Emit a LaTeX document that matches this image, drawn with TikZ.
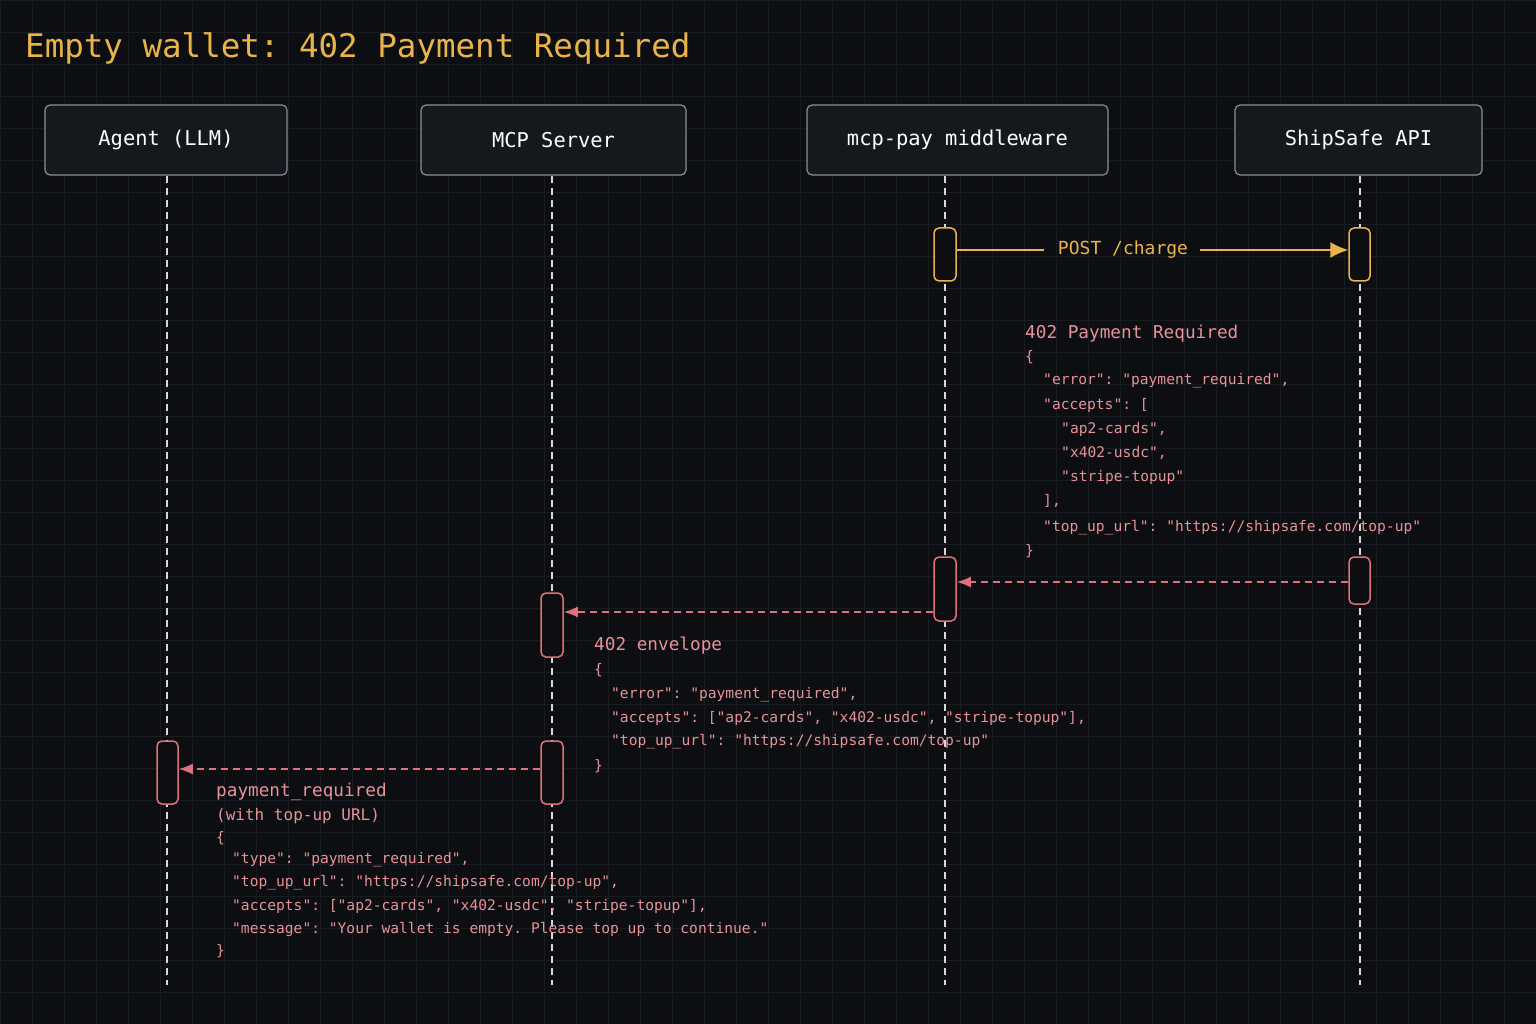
\documentclass[tikz,border=0pt]{standalone}
\usepackage{fontspec}
\setmonofont{DejaVu Sans Mono}
\usetikzlibrary{arrows.meta}
\definecolor{bg}{HTML}{0C0E11}
\definecolor{gridc}{HTML}{181B1F}
\definecolor{yel}{HTML}{E9B44C}
\definecolor{red}{HTML}{E0707C}
\definecolor{codec}{HTML}{E8929A}
\definecolor{boxfill}{HTML}{15181C}
\definecolor{boxline}{HTML}{8A8F96}
\definecolor{lifec}{HTML}{D8D8D8}
\begin{document}
\begin{tikzpicture}[x=1pt,y=-1pt,
  actor/.style={draw=boxline,fill=boxfill,rounded corners=5pt,line width=1.2pt,text=white,font=\ttfamily\fontsize{20.4}{20}\selectfont},
  life/.style={lifec,dashed,dash pattern=on 7pt off 5pt,line width=1.3pt},
  actY/.style={draw=yel,fill=bg,rounded corners=5pt,line width=1.5pt},
  actR/.style={draw=red,fill=bg,rounded corners=5pt,line width=1.5pt},
  code/.style={anchor=west,inner sep=0pt,text=codec,font=\ttfamily\fontsize{14.6}{14}\selectfont},
  head/.style={anchor=west,inner sep=0pt,text=codec,font=\ttfamily\fontsize{17.7}{17}\selectfont},
  rmsg/.style={red,line width=1.6pt,dash pattern=on 7pt off 5pt,-{Latex[length=14pt,width=11pt]}}]
\fill[bg] (0,0) rectangle (1536,1024);
\useasboundingbox (0,0) rectangle (1536,1024);
\foreach \i in {0,32,...,1536} \draw[gridc,line width=0.6pt] (\i,0) -- (\i,1024);
\foreach \j in {0,32,...,1024} \draw[gridc,line width=0.6pt] (0,\j) -- (1536,\j);
\node[anchor=west,inner sep=0pt,text=yel,font=\ttfamily\fontsize{32.5}{33}\selectfont] (title) at (25,48) {Empty wallet: 402 Payment Required};
% actors
\node[actor,minimum width=242,minimum height=70] (agent) at (166,140) {Agent (LLM)};
\node[actor,minimum width=265,minimum height=70] (mcp) at (553.5,140) {MCP Server};
\node[actor,minimum width=301,minimum height=70] (pay) at (957.5,140) {mcp-pay middleware};
\node[actor,minimum width=247,minimum height=70] (ship) at (1358.5,140) {ShipSafe API};
\coordinate (agentE) at (167,985);
\coordinate (mcpE) at (552,985);
\coordinate (payE) at (945,985);
\coordinate (shipE) at (1360,985);
\draw[life] (agent.south -| agentE) -- (agentE);
\draw[life] (mcp.south -| mcpE) -- (mcpE);
\draw[life] (pay.south -| payE) -- (payE);
\draw[life] (ship.south -| shipE) -- (shipE);
% activations
\node[actY,minimum width=22,minimum height=53,inner sep=0pt] (a1) at (945,254.5) {};
\node[actY,minimum width=21,minimum height=53,inner sep=0pt] (a2) at (1359.5,254.5) {};
\node[actR,minimum width=21,minimum height=47,inner sep=0pt] (r1) at (1359.5,580.5) {};
\node[actR,minimum width=22,minimum height=64,inner sep=0pt] (r2) at (945,589) {};
\node[actR,minimum width=22,minimum height=64,inner sep=0pt] (r3) at (552,625) {};
\node[actR,minimum width=22,minimum height=63,inner sep=0pt] (r4) at (552,772.5) {};
\node[actR,minimum width=21,minimum height=63,inner sep=0pt] (r5) at (167.5,772.5) {};
% POST
\node[text=yel,font=\ttfamily\fontsize{18}{18}\selectfont,inner sep=0pt] (post) at (1123,250) {POST /charge};
\draw[yel,line width=1.6pt] (a1.east |- post) -- (1044,250);
\draw[yel,line width=1.6pt,-{Latex[length=18pt,width=16pt]}] (1200,250) -- (a2.west |- post);
% red arrows
\draw[rmsg] (r1.west |- 0,582) -- (r2.east |- 0,582);
\draw[rmsg] (r2.west |- 0,612) -- (r3.east |- 0,612);
\draw[rmsg] (r4.west |- 0,769) -- (r5.east |- 0,769);
% block 1
\node[head] (h1) at (1025,334) {402 Payment Required};
\node[code] (c11) at (1025,357) {\{};
\node[code] (c12) at (1043,381) {"error": "payment\_required",};
\node[code] (c13) at (1043,405) {"accepts": [};
\node[code] (c14) at (1061,429) {"ap2-cards",};
\node[code] (c15) at (1061,453) {"x402-usdc",};
\node[code] (c16) at (1061,477) {"stripe-topup"};
\node[code] (c17) at (1043,501) {],};
\node[code] (c18) at (1043,528) {"top\_up\_url": "https://shipsafe.com/top-up"};
\node[code] (c19) at (1025,551) {\}};
% block 2
\node[head] (h2) at (594,646) {402 envelope};
\node[code] (c21) at (594,670) {\{};
\node[code] (c22) at (611,695) {"error": "payment\_required",};
\node[code] (c23) at (611,718) {"accepts": ["ap2-cards", "x402-usdc", "stripe-topup"],};
\node[code] (c24) at (611,742) {"top\_up\_url": "https://shipsafe.com/top-up"};
\node[code] (c25) at (594,766) {\}};
% block 3
\node[head] (h3) at (216,792) {payment\_required};
\node[code,font=\ttfamily\fontsize{16}{16}\selectfont] (h3b) at (216,816) {(with top-up URL)};
\node[code] (c31) at (216,838) {\{};
\node[code] (c32) at (232,860) {"type": "payment\_required",};
\node[code] (c33) at (232,883) {"top\_up\_url": "https://shipsafe.com/top-up",};
\node[code] (c34) at (232,906) {"accepts": ["ap2-cards", "x402-usdc", "stripe-topup"],};
\node[code] (c35) at (232,929) {"message": "Your wallet is empty. Please top up to continue."};
\node[code] (c36) at (216,951) {\}};
\end{tikzpicture}
\end{document}
